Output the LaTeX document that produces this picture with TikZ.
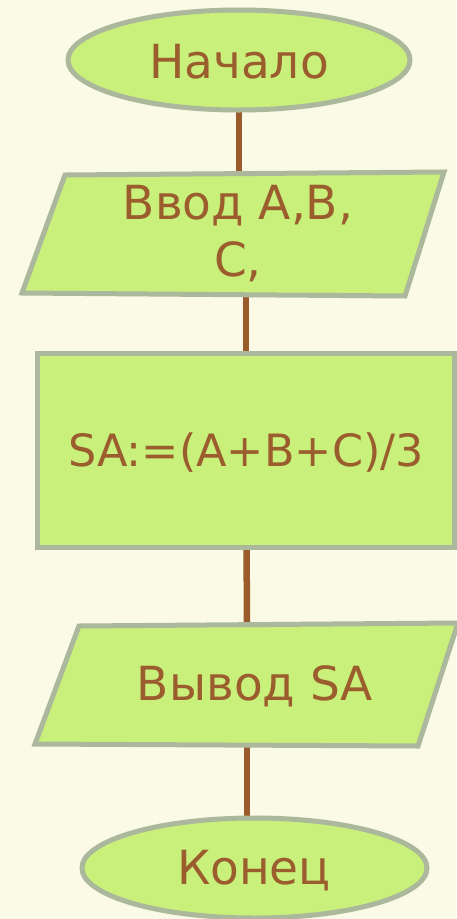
\documentclass[tikz,border=0pt]{standalone}
\usepackage{fontspec}
\setmainfont{DejaVu Sans}
\definecolor{bgc}{HTML}{FAFAE6}
\definecolor{fillg}{HTML}{C8F07B}
\definecolor{edgec}{HTML}{ABB89C}
\definecolor{txtc}{HTML}{9B5C2E}
\definecolor{connc}{HTML}{9B5C2B}
\usetikzlibrary{shapes.geometric}
\pgfdeclarelayer{behind}
\pgfsetlayers{behind,main}
\begin{document}
\begin{tikzpicture}[x=1pt,y=-1pt,
  shapebase/.style={fill=fillg, draw=edgec, line width=5pt},
  lbl/.style={text=txtc, font=\fontsize{47}{57}\selectfont, inner sep=0pt, align=center},
  termbox/.style={shapebase, ellipse, inner sep=0pt},
  procbox/.style={shapebase, rectangle, inner sep=0pt},
  connline/.style={draw=connc, line width=6.5pt}
]
\begin{pgfonlayer}{behind}
\fill[bgc] (0,0) rectangle (456,919);
\end{pgfonlayer}
\useasboundingbox (0,0) rectangle (456,919);

% coordinates of the parallelograms
\coordinate (p1tl) at (65,175);
\coordinate (p1tr) at (444,172);
\coordinate (p1br) at (405,296);
\coordinate (p1bl) at (22,293);
\coordinate (p1top) at (239,174);
\coordinate (p1bot) at (246,294);

\coordinate (p2tl) at (79,626);
\coordinate (p2tr) at (458,623);
\coordinate (p2br) at (418,746);
\coordinate (p2bl) at (35,744);
\coordinate (p2top) at (247,625);
\coordinate (p2bot) at (247,745);

% shapes
\node[termbox, minimum width=342pt, minimum height=100pt] (start) at (239,60) {};
\filldraw[shapebase] (p1tl) -- (p1tr) -- (p1br) -- (p1bl) -- cycle;
\node[procbox, minimum width=417pt, minimum height=194pt] (calc) at (246,450) {};
\filldraw[shapebase] (p2tl) -- (p2tr) -- (p2br) -- (p2bl) -- cycle;
\node[termbox, minimum width=345pt, minimum height=100pt] (stop) at (254.5,868) {};

% connectors (behind shapes)
\begin{pgfonlayer}{behind}
\draw[connline] (start.center) -- (p1top);
\draw[connline] (p1bot) -- (calc.center -| p1bot);
\draw[connline] (calc.center) -- (p2top);
\draw[connline] (p2bot) -- (stop.center -| p2bot);
\end{pgfonlayer}

% texts
\node[lbl] (t1) at (239,62) {Начало};
\node[lbl] (t2) at (238,234) {Ввод A,B,\\C,};
\node[lbl, font=\fontsize{44.5}{57}\selectfont] (t3) at (246,453) {SA:=(A+B+C)/3};
\node[lbl] (t4) at (255,686) {Вывод SA};
\node[lbl] (t5) at (254,871) {Конец};
\end{tikzpicture}
\end{document}
